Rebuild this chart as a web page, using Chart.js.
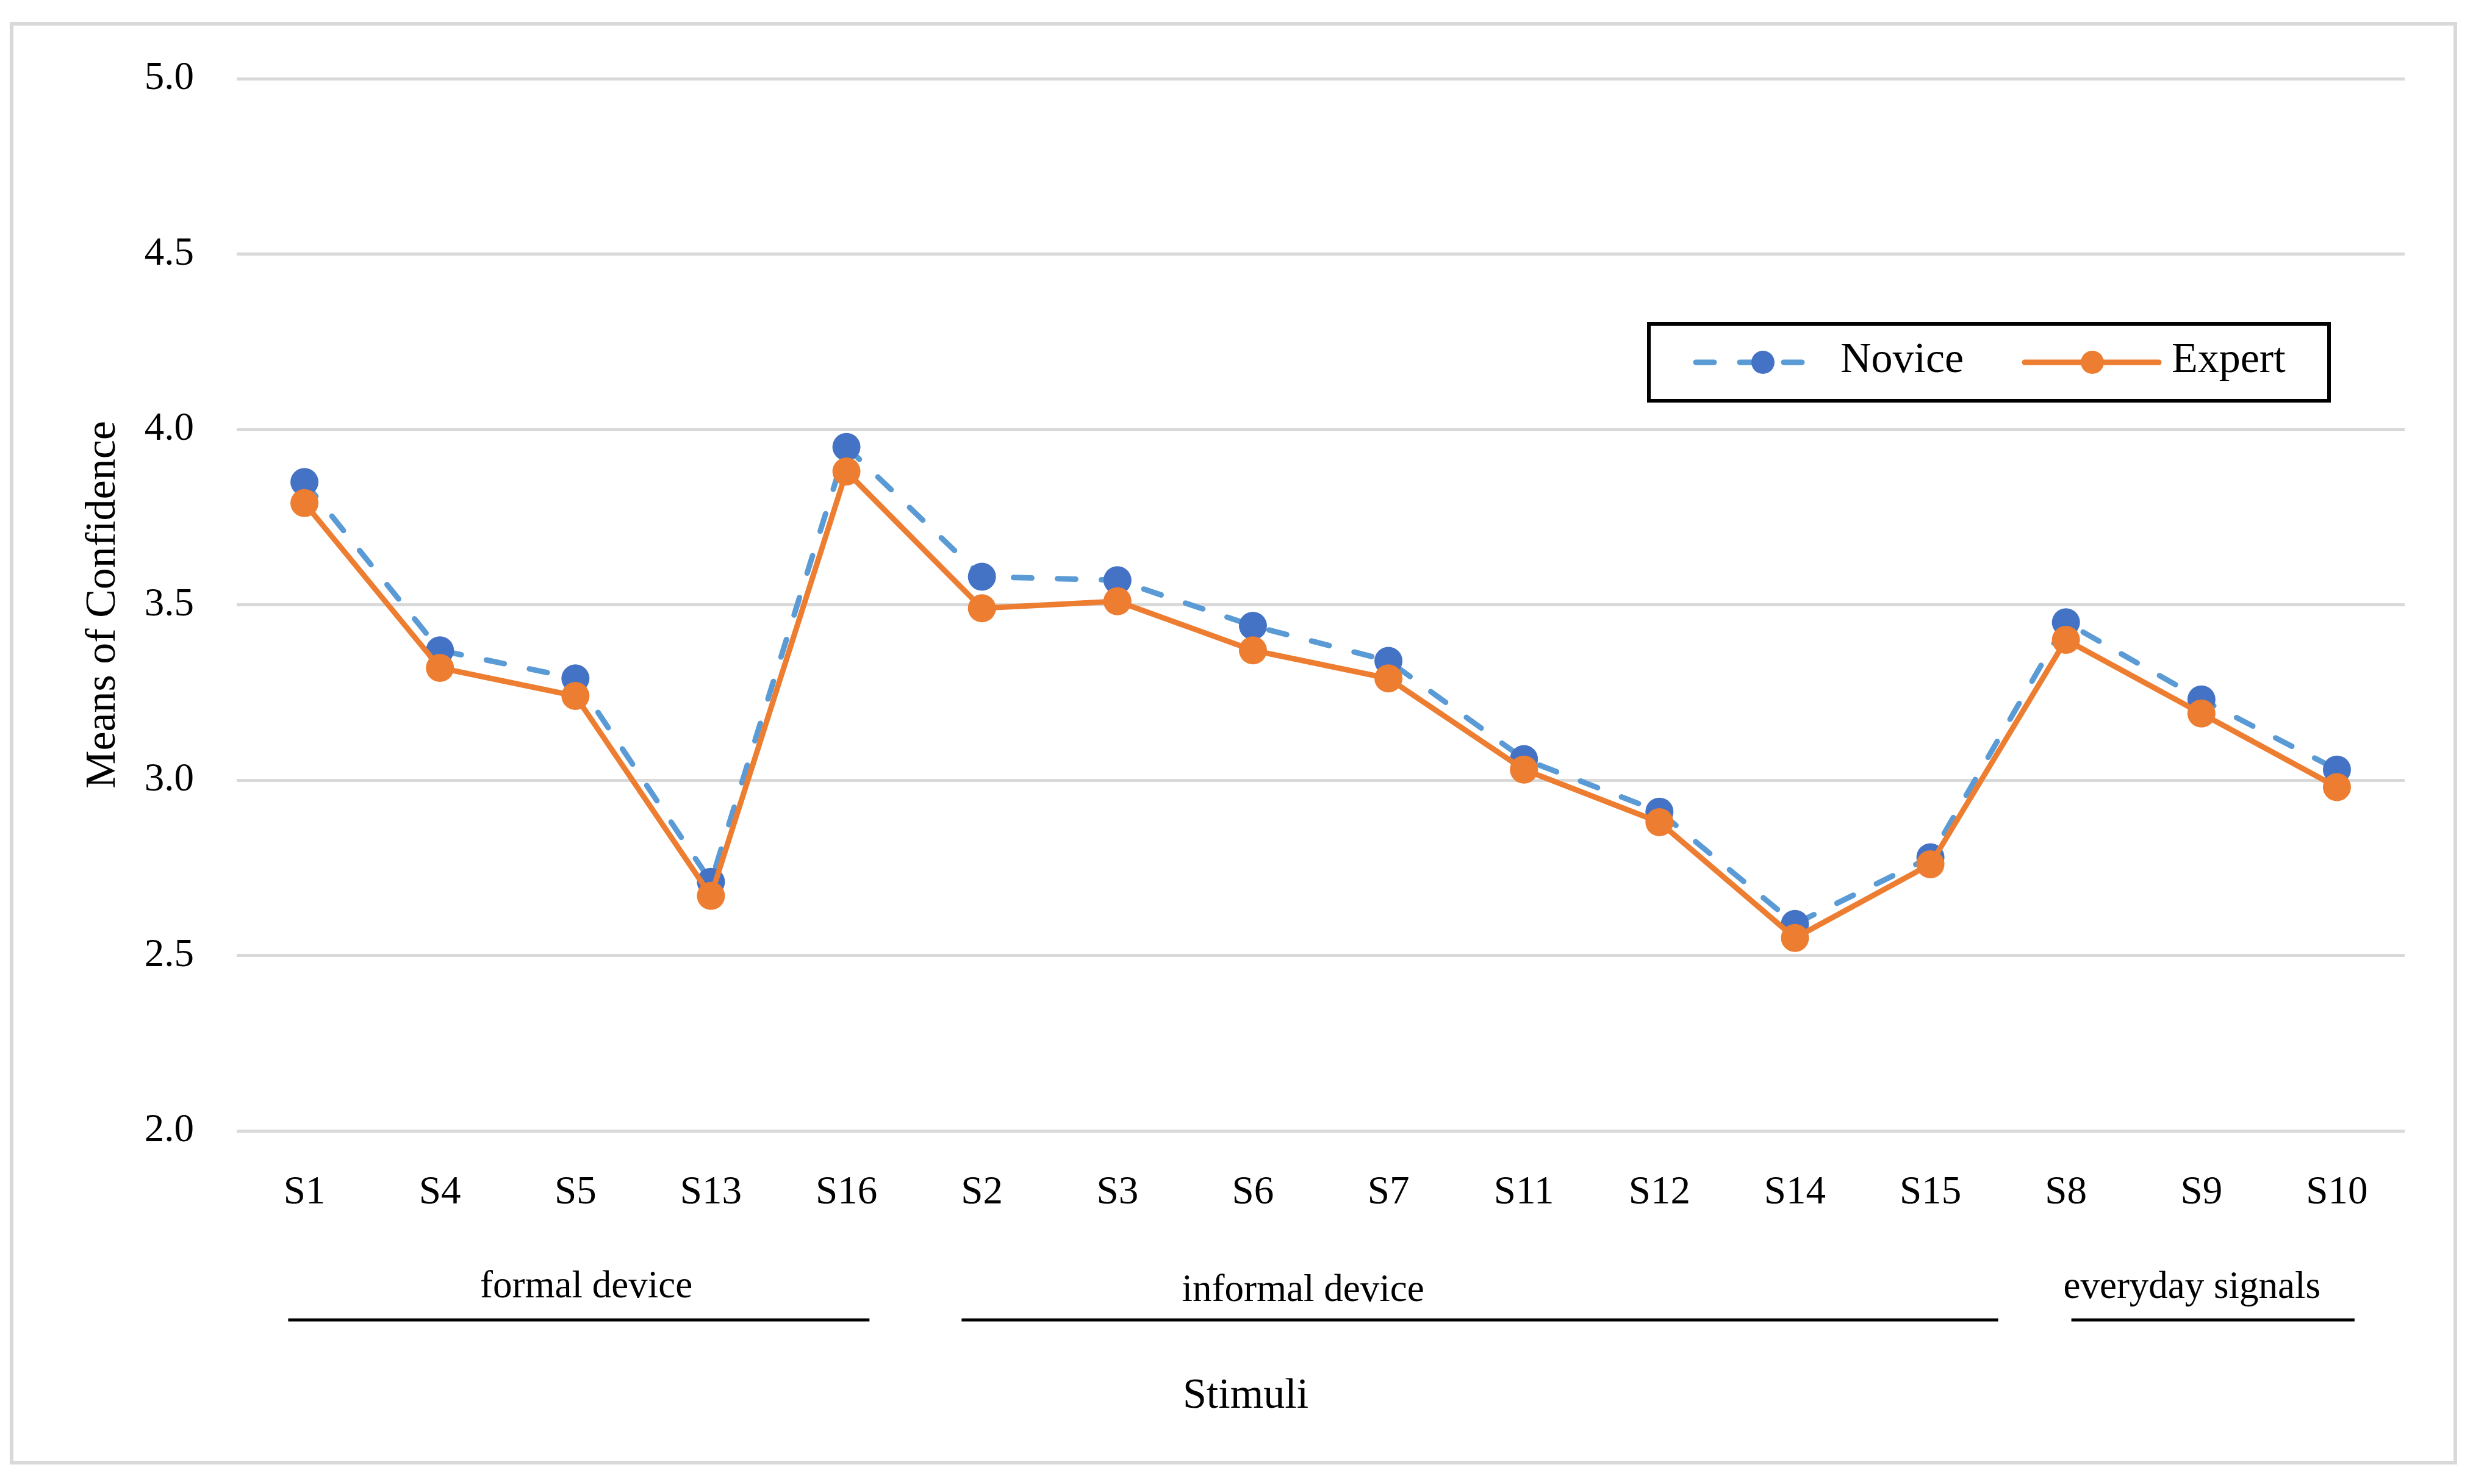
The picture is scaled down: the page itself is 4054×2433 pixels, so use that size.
<!DOCTYPE html>
<html>
	<head>
		<meta charset="utf-8"/>
		<title>Means of Confidence</title>
		<script src="https://cdn.jsdelivr.net/npm/chart.js@4.4.1/dist/chart.umd.min.js"></script>
		<style>
			body { margin: 0; background: #ffffff; }
			canvas { display: block; }
		</style>
	</head>
	<body>
		<canvas id="conf_chart" width="4054" height="2433"></canvas>
		<script>
			// data
			const categories = ['S1', 'S4', 'S5', 'S13', 'S16', 'S2', 'S3', 'S6', 'S7', 'S11', 'S12', 'S14', 'S15', 'S8', 'S9', 'S10'];
			const noviceMeans = [3.85, 3.37, 3.29, 2.71, 3.95, 3.58, 3.57, 3.44, 3.34, 3.06, 2.91, 2.59, 2.78, 3.45, 3.23, 3.03];
			const expertMeans = [3.79, 3.32, 3.24, 2.67, 3.88, 3.49, 3.51, 3.37, 3.29, 3.03, 2.88, 2.55, 2.76, 3.40, 3.19, 2.98];
			const yMin = 2.0;
			const yMax = 5.0;
			const yStep = 0.5;
			const groupNames = ['formal device', 'informal device', 'everyday signals'];

			// where the group brackets sit, in category units
			const groupLineFrom = [-0.12, 4.85, 13.04];
			const groupLineTo = [4.17, 12.5, 15.13];
			const groupLabelAt = [2.08, 7.37, 13.93];
			const groupLabelBase = [2127, 2133, 2128];

			const FONT = "'Liberation Serif', 'Times New Roman', serif";

			const decorPlugin =
			{
				id: 'decor',
				beforeDraw(chart)
				{
					const ctx = chart.ctx;
					ctx.save();
					ctx.fillStyle = '#ffffff';
					ctx.fillRect(0, 0, chart.width, chart.height);
					ctx.strokeStyle = '#d9d9d9';
					ctx.lineWidth = 6;
					ctx.strokeRect(19, 39, 4006, 2359);
					ctx.restore();
				},
				afterDraw(chart)
				{
					const ctx = chart.ctx;
					const x = chart.scales.x;
					ctx.save();

					// group labels with their bracket lines
					ctx.fillStyle = '#000000';
					ctx.strokeStyle = '#000000';
					ctx.font = '63px ' + FONT;
					ctx.textAlign = 'center';
					ctx.textBaseline = 'alphabetic';
					ctx.lineWidth = 5;
					const step = x.getPixelForValue(1) - x.getPixelForValue(0);
					const x0 = x.getPixelForValue(0);
					for (let i = 0; i < groupNames.length; i++)
					{
						ctx.fillText(groupNames[i], x0 + groupLabelAt[i] * step, groupLabelBase[i]);
						ctx.beginPath();
						ctx.moveTo(x0 + groupLineFrom[i] * step, 2164);
						ctx.lineTo(x0 + groupLineTo[i] * step, 2164);
						ctx.stroke();
					}

					// axis title
					ctx.font = '70px ' + FONT;
					ctx.fillText('Stimuli', 2042, 2308);

					// legend box
					ctx.lineWidth = 6;
					ctx.strokeRect(2703, 531, 1115, 126);
					const items =
					[
						{ ds: chart.data.datasets[0], from: 2780, to: 2964, dot: 2890, text: 3017 },
						{ ds: chart.data.datasets[1], from: 3319, to: 3539, dot: 3430, text: 3560 }
					];
					const ly = 594;
					items.forEach(it =>
					{
						ctx.beginPath();
						ctx.strokeStyle = it.ds.borderColor;
						ctx.lineWidth = it.ds.borderWidth;
						ctx.lineCap = 'round';
						ctx.setLineDash(it.ds.borderDash || []);
						ctx.moveTo(it.from, ly);
						ctx.lineTo(it.to, ly);
						ctx.stroke();
						ctx.setLineDash([]);
						ctx.beginPath();
						ctx.fillStyle = it.ds.pointBackgroundColor;
						ctx.arc(it.dot, ly, 19, 0, Math.PI * 2);
						ctx.fill();
						ctx.fillStyle = '#000000';
						ctx.font = '70px ' + FONT;
						ctx.textAlign = 'left';
						ctx.fillText(it.ds.label, it.text, 610);
					});
					ctx.restore();
				}
			};

			const ctx = document.getElementById('conf_chart').getContext('2d');
			const chart = new Chart(ctx,
			{
				type: 'line',
				data:
				{
					labels: categories,
					datasets:
					[
						{
							label: 'Novice',
							data: noviceMeans,
							borderColor: '#5b9bd5',
							borderWidth: 9,
							borderDash: [30, 42],
							borderCapStyle: 'round',
							pointRadius: 23,
							pointHoverRadius: 23,
							pointBorderWidth: 0,
							pointBackgroundColor: '#4472c4',
							pointBorderColor: '#4472c4',
							tension: 0,
							order: 1
						},
						{
							label: 'Expert',
							data: expertMeans,
							borderColor: '#ed7d31',
							borderWidth: 9,
							borderCapStyle: 'round',
							pointRadius: 23,
							pointHoverRadius: 23,
							pointBorderWidth: 0,
							pointBackgroundColor: '#ed7d31',
							pointBorderColor: '#ed7d31',
							tension: 0,
							order: 0
						}
					]
				},
				options:
				{
					responsive: false,
					animation: false,
					devicePixelRatio: 1,
					layout: { padding: { top: 129, right: 112, left: 0, bottom: 0 } },
					plugins:
					{
						legend: { display: false },
						tooltip: { enabled: false }
					},
					scales:
					{
						x:
						{
							offset: true,
							grid: { display: false },
							border: { display: false },
							ticks: { color: '#000000', font: { family: FONT, size: 65 }, padding: 55, maxRotation: 0, autoSkip: false },
							afterFit(scale) { scale.height = 579; }
						},
						y:
						{
							min: yMin,
							max: yMax,
							grid: { color: '#d9d9d9', lineWidth: 5, drawTicks: false },
							border: { display: false },
							ticks:
							{
								stepSize: yStep,
								color: '#000000',
								font: { family: FONT, size: 65 },
								padding: 70,
								callback: v => v.toFixed(1)
							},
							title:
							{
								display: true,
								text: 'Means of Confidence',
								color: '#000000',
								font: { family: FONT, size: 70 },
								padding: { top: 128, bottom: 0 }
							},
							afterFit(scale) { scale.width = 388; }
						}
					}
				},
				plugins: [decorPlugin]
			});
		</script>
	</body>
</html>
